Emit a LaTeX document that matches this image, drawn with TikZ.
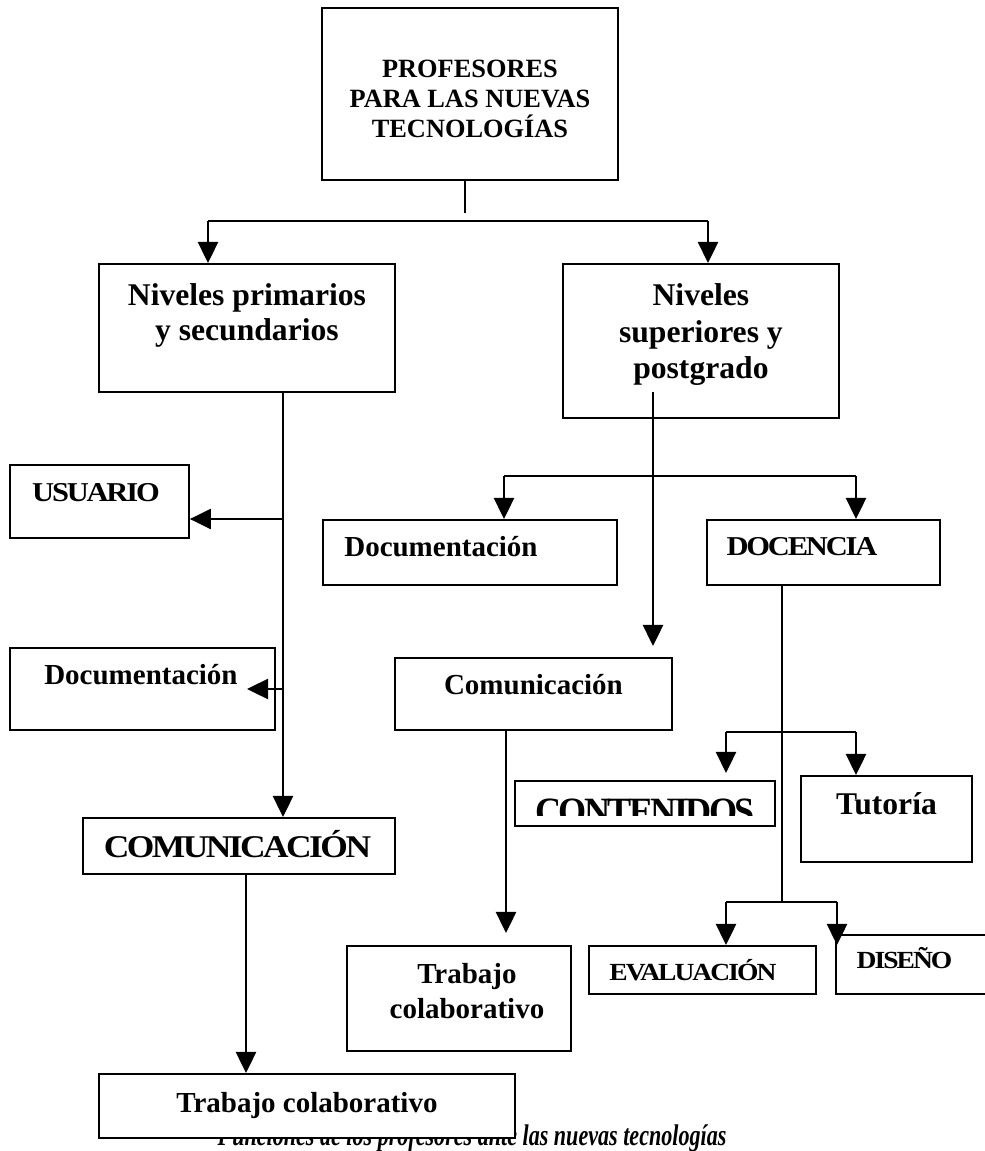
\documentclass[tikz,border=0pt]{standalone}
\usepackage{fontspec}
\setmainfont{Liberation Serif}
\newfontfamily\tightfont[FakeStretch=1.12,LetterSpace=-8]{Liberation Serif}
\newfontfamily\narrowfont[FakeStretch=0.74]{Liberation Serif}
\usetikzlibrary{arrows.meta}
\newcommand{\fsz}[2]{\fontsize{#1}{#2}\selectfont}

\begin{document}
\begin{tikzpicture}[x=0.02cm,y=-0.02cm,
  box/.style={draw,fill=white,line width=1.1pt,anchor=north west,inner sep=0pt},
  txt/.style={inner sep=0pt,align=center},
  ln/.style={line width=1.1pt},
  arr/.style={line width=1.1pt,-{Triangle[length=12pt,width=11.5pt]}}]
                \useasboundingbox (0,0) rectangle (984,1151);
                \node[txt,font=\narrowfont\bfseries\itshape\fsz{17}{20},anchor=base] (cap) at (472,1145) {Funciones de los profesores ante las nuevas tecnologías};
                \node[box,minimum width=5.92cm,minimum height=3.44cm,label={[txt,font=\bfseries\fsz{15}{17},anchor=north,yshift=-1.05cm]north:{PROFESORES\\PARA LAS NUEVAS\\TECNOLOGÍAS}}] (T) at (321,7) {};
                \node[box,minimum width=5.92cm,minimum height=2.56cm,label={[txt,font=\bfseries\fsz{18}{20},anchor=north,yshift=-0.408cm]north:{Niveles primarios\\y secundarios}}] (A) at (98,263) {};
                \node[box,minimum width=5.52cm,minimum height=3.08cm,label={[txt,font=\bfseries\fsz{18}{20.8},anchor=north,yshift=-0.408cm]north:{Niveles\\superiores y\\postgrado}}] (B) at (562,263) {};
                \node[box,minimum width=3.58cm,minimum height=1.46cm,label={[txt,font=\tightfont\bfseries\fsz{15.5}{18},anchor=base,yshift=-0.76cm,xshift=-0.07cm]north:{USUARIO}}] (usu) at (9,464) {};
                \node[box,minimum width=5.30cm,minimum height=1.64cm,label={[txt,font=\bfseries\fsz{16.5}{19},anchor=base,yshift=-0.76cm,xshift=-0.03cm]north:{Documentación}}] (docl) at (9,647) {};
                \node[box,minimum width=6.24cm,minimum height=1.12cm,label={[txt,font=\tightfont\bfseries\fsz{18}{20},anchor=base,yshift=-0.80cm,xshift=-0.03cm]north:{COMUNICACIÓN}}] (com) at (82,817) {};
                \node[box,minimum width=8.32cm,minimum height=1.28cm,label={[txt,font=\bfseries\fsz{16.5}{19},anchor=base,yshift=-0.78cm]north:{Trabajo colaborativo}}] (trl) at (98,1073) {};
                \node[box,minimum width=5.88cm,minimum height=1.30cm,label={[txt,font=\bfseries\fsz{16.5}{19},anchor=base,yshift=-0.76cm,xshift=-0.58cm]north:{Documentación}}] (docr) at (322,519) {};
                \node[box,minimum width=4.66cm,minimum height=1.30cm,label={[txt,font=\tightfont\bfseries\fsz{15.5}{18},anchor=base,yshift=-0.74cm,xshift=-0.43cm]north:{DOCENCIA}}] (doc) at (706,519) {};
                \node[box,minimum width=5.54cm,minimum height=1.44cm,label={[txt,font=\bfseries\fsz{16.5}{19},anchor=base,yshift=-0.76cm]north:{Comunicación}}] (cm) at (394,657) {};
                \node[box,minimum width=4.48cm,minimum height=2.10cm,label={[txt,font=\bfseries\fsz{16.5}{20},anchor=north,yshift=-0.36cm,xshift=0.16cm]north:{Trabajo\\colaborativo}}] (trm) at (346,945) {};
                \node[box,minimum width=5.20cm,minimum height=0.90cm] (cont) at (514,780) {};
                \begin{scope}
                  \clip (cont.north west) rectangle ([yshift=0.22cm]cont.south east);
                  \node[txt,font=\tightfont\bfseries\fsz{22}{24},anchor=base] (contt) at ([yshift=-0.89cm]cont.north) {\scalebox{0.835}[1]{CONTENIDOS}};
                \end{scope}
                \node[box,minimum width=3.42cm,minimum height=1.72cm,label={[txt,font=\bfseries\fsz{18}{20},anchor=base,yshift=-0.80cm]north:{Tutoría}}] (tut) at (800,775) {};
                \node[box,minimum width=4.54cm,minimum height=0.96cm,label={[txt,font=\tightfont\bfseries\fsz{14}{16},anchor=base,yshift=-0.70cm,xshift=-0.19cm]north:{EVALUACIÓN}}] (eva) at (588,945) {};
                \node[box,minimum width=3.06cm,minimum height=1.18cm,label={[txt,font=\tightfont\bfseries\fsz{14}{16},anchor=base,yshift=-0.68cm,xshift=-0.16cm]north:{DISEÑO}}] (dis) at (835,934) {};
                \coordinate (stub) at (465,213);
                \coordinate (b1L) at (208,221);
                \coordinate (b1R) at (708,221);
                \draw[ln] (T.south -| stub) -- (stub);
                \draw[ln] (b1L) -- (b1R);
                \draw[arr] (b1L) -- (b1L |- A.north);
                \draw[arr] (b1R) -- (b1R |- B.north);
                \coordinate (lu) at (283,519);
                \coordinate (ld) at (283,689);
                \coordinate (ldtip) at (247,689);
                \draw[arr] (A.south -| lu) -- (com.north -| lu);
                \draw[arr] (lu) -- (usu.east |- lu);
                \draw[arr] (ld) -- (ldtip);
                \coordinate (cl) at (246,873);
                \draw[arr] (cl) -- (cl |- trl.north);
                \coordinate (bs) at (653,392);
                \coordinate (bt) at (653,646);
                \draw[arr] (bs) -- (bt);
                \coordinate (b2L) at (504,476);
                \coordinate (b2R) at (856,476);
                \draw[ln] (b2L) -- (b2R);
                \draw[arr] (b2L) -- (b2L |- docr.north);
                \draw[arr] (b2R) -- (b2R |- doc.north);
                \coordinate (ct) at (506,933);
                \draw[arr] (cm.south -| ct) -- (ct);
                \coordinate (dt) at (782,902);
                \draw[ln] (doc.south -| dt) -- (dt);
                \coordinate (b3L) at (726,732);
                \coordinate (b3R) at (856,732);
                \draw[ln] (b3L) -- (b3R);
                \draw[arr,shorten >=4pt] (b3L) -- (b3L |- cont.north);
                \draw[arr] (b3R) -- (b3R |- tut.north);
                \coordinate (b4L) at (726,902);
                \coordinate (b4R) at (837,902);
                \draw[ln] (b4L) -- (b4R);
                \draw[arr] (b4L) -- (b4L |- eva.north);
                \draw[arr] (b4R) -- (b4R |- eva.north);
            \end{tikzpicture}
\end{document}
